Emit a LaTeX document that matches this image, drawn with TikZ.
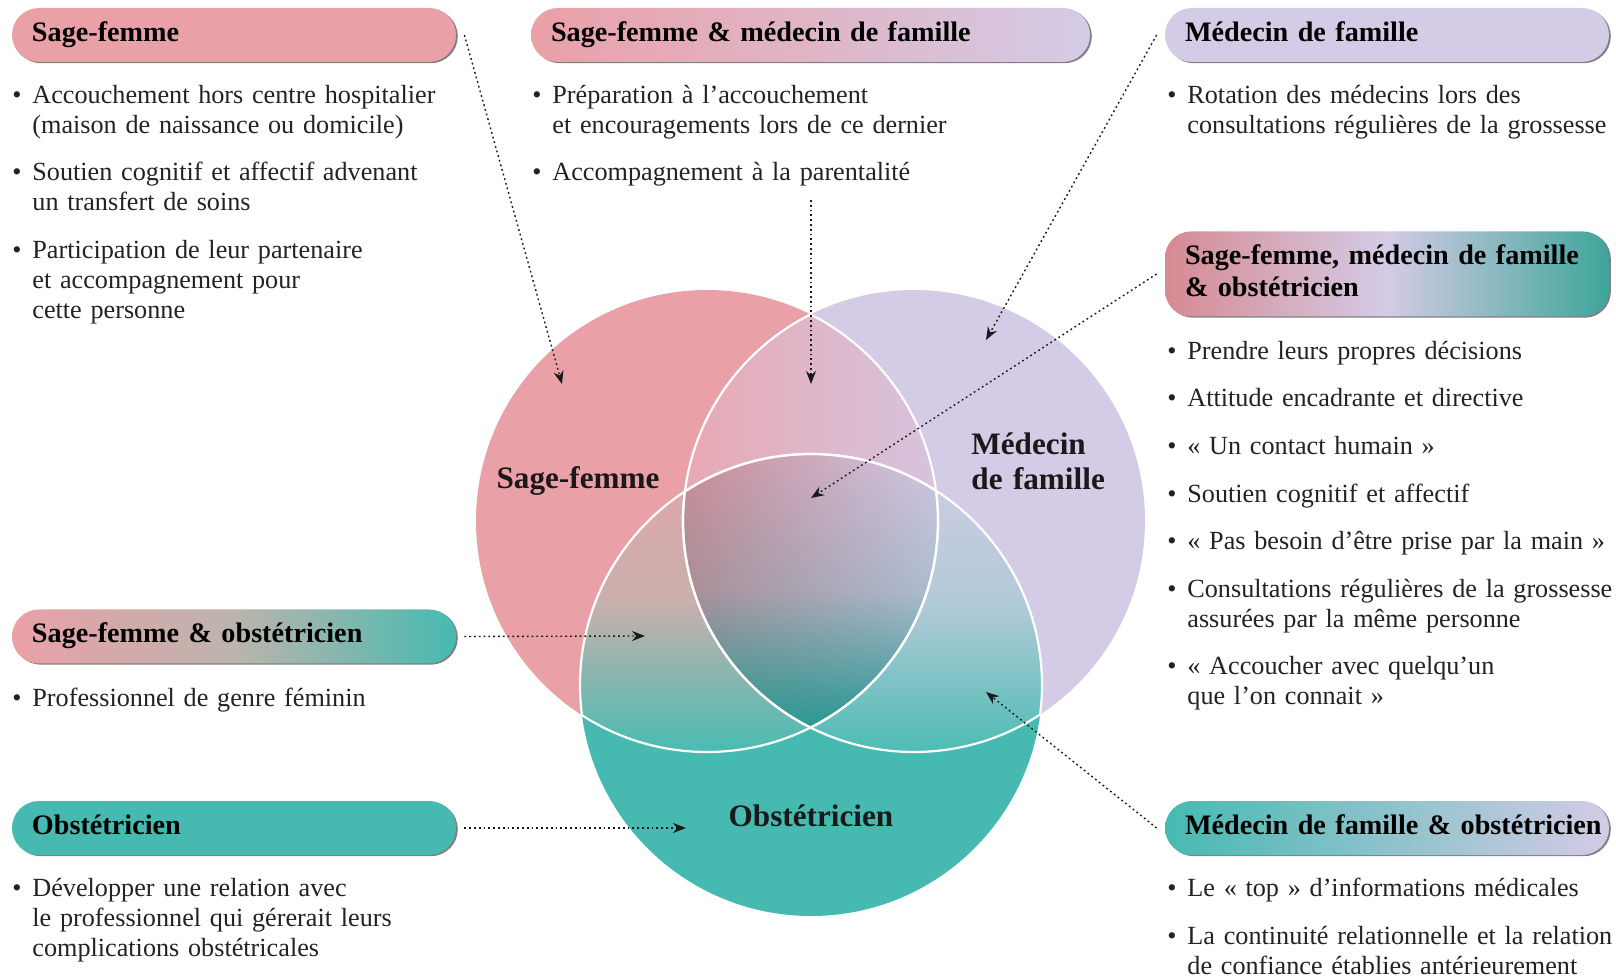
\documentclass[tikz,border=0pt]{standalone}
\usepackage{fontspec}
\setmainfont{Liberation Serif}
\usetikzlibrary{arrows.meta,fadings,shadows}

\definecolor{sfpink}{RGB}{234,160,167}
\definecolor{mflav}{RGB}{212,203,230}
\definecolor{obteal}{RGB}{70,186,177}
\definecolor{txt}{RGB}{35,35,35}
\definecolor{abL}{RGB}{232,168,178}
\definecolor{abR}{RGB}{214,196,222}
\definecolor{acT}{RGB}{228,165,170}
\definecolor{acM}{RGB}{200,176,172}
\definecolor{acB}{RGB}{72,188,178}
\definecolor{bcT}{RGB}{210,203,230}
\definecolor{bcM}{RGB}{178,202,216}
\definecolor{bcB}{RGB}{78,188,180}
\definecolor{ccL}{RGB}{205,140,152}
\definecolor{ccR}{RGB}{208,200,228}
\definecolor{ccB}{RGB}{40,152,146}
\definecolor{hfourL}{RGB}{214,138,146}
\definecolor{hfourR}{RGB}{62,165,155}
\definecolor{hfiveM}{RGB}{188,180,172}

\tikzfading[name=tealfade, top color=transparent!100, bottom color=transparent!0, middle color=transparent!78]

\newcommand{\bitem}[1]{\par\noindent\hangindent=10pt\hangafter=1\makebox[10pt][l]{\strut•}#1\par}
\newcommand{\isep}{\vspace{8.8pt}}

\def\cA{(707,521) circle[radius=115.5pt]}
\def\cB{(914,521) circle[radius=115.5pt]}
\def\cC{(811,685) circle[radius=115.5pt]}

\tikzset{
  hdr/.style={rounded corners=13.5pt, minimum height=27pt, inner xsep=10pt, inner ysep=0pt,
    align=left, font=\fontsize{14.1}{16}\selectfont\bfseries, text=black,
    drop shadow={shadow xshift=0.9pt, shadow yshift=-0.6pt, opacity=0.5, fill=black}},
  lst/.style={anchor=north west, inner sep=0pt, text width=250pt, align=left,
    font=\fontsize{13.1}{15}\selectfont, text=txt},
  vlab/.style={font=\fontsize{15.6}{17.5}\selectfont\bfseries, text=black!90, inner sep=0pt},
  wl/.style={draw=white, line width=1.1pt},
  arr/.style={draw=black!90, line width=0.7pt, dash pattern=on 0.9pt off 1.5pt,
    -{Stealth[length=6.5pt,width=5pt]}}
}

\begin{document}
\begin{tikzpicture}[x=0.5pt,y=-0.5pt]
\useasboundingbox (0,0) rectangle (1616,977);
\fill[white] (0,0) rectangle (1616,977);

% ---- Venn diagram ----
\fill[sfpink] \cA;
\fill[mflav] \cB;
\fill[obteal] \cC;
\begin{scope}
  \clip \cA; \clip \cB;
  \shade[left color=abL, right color=abR] (681,312) rectangle (940,730);
\end{scope}
\begin{scope}
  \clip \cA; \clip \cC;
  \shade[top color=acT, bottom color=acB, middle color=acM] (580,454) rectangle (940,752);
\end{scope}
\begin{scope}
  \clip \cB; \clip \cC;
  \shade[top color=bcT, bottom color=bcB, middle color=bcM] (681,454) rectangle (1042,752);
\end{scope}
\begin{scope}
  \clip \cA; \clip \cB; \clip \cC;
  \shade[left color=ccL, right color=ccR] (681,454) rectangle (940,729);
  \fill[ccB, path fading=tealfade] (681,454) rectangle (940,729);
\end{scope}
\begin{scope}\clip \cA; \draw[wl] \cB; \draw[wl] \cC; \end{scope}
\begin{scope}\clip \cB; \draw[wl] \cA; \draw[wl] \cC; \end{scope}
\begin{scope}\clip \cC; \draw[wl] \cA; \draw[wl] \cB; \end{scope}

\node[vlab, anchor=base] (vsf) at (578,488.5) {Sage-femme};
\node[vlab, anchor=north west, text width=80pt, align=left] (vmf) at (971,430) {\strut Médecin\newline de famille};
\node[vlab, anchor=base] (vob) at (811,826) {Obstétricien};

% ---- headers ----
\node[hdr, fill=sfpink, text width=202pt] (h1) at (234,35) {\strut Sage-femme};
\node[hdr, left color=sfpink, right color=mflav, text width=259.5pt] (h2) at (810.5,35) {\strut Sage-femme \& médecin de famille};
\node[hdr, fill=mflav, text width=202pt] (h3) at (1387,35) {\strut Médecin de famille};
\node[hdr, rounded corners=13pt, minimum height=42.5pt, left color=hfourL, right color=hfourR, middle color=mflav, text width=202pt] (h4) at (1387,274) {\strut\mbox{Sage-femme, médecin de famille}\newline\strut\& obstétricien};
\node[hdr, left color=sfpink, right color=obteal, middle color=hfiveM, text width=202pt] (h5) at (234,636.5) {\strut Sage-femme \& obstétricien};
\node[hdr, fill=obteal, text width=202pt] (h6) at (234,828) {\strut Obstétricien};
\node[hdr, left color=obteal, right color=mflav, text width=202pt] (h7) at (1387,828) {\strut\mbox{Médecin de famille \& obstétricien}};

% ---- lists ----
\node[lst] (l1) at (12,73) {%
\bitem{Accouchement hors centre hospitalier\newline (maison de naissance ou domicile)}\isep
\bitem{Soutien cognitif et affectif advenant\newline un transfert de soins}\isep
\bitem{Participation de leur partenaire\newline et accompagnement pour\newline cette personne}};
\node[lst] (l2) at (532,73) {%
\bitem{Préparation à l’accouchement\newline et encouragements lors de ce dernier}\isep
\bitem{Accompagnement à la parentalité}};
\node[lst] (l3) at (1167,73) {%
\bitem{Rotation des médecins lors des\newline consultations régulières de la grossesse}};
\node[lst] (l4) at (1167,329) {%
\bitem{Prendre leurs propres décisions}\isep
\bitem{Attitude encadrante et directive}\isep
\bitem{«~Un contact humain~»}\isep
\bitem{Soutien cognitif et affectif}\isep
\bitem{«~Pas besoin d’être prise par la main~»}\isep
\bitem{Consultations régulières de la grossesse\newline assurées par la même personne}\isep
\bitem{«~Accoucher avec quelqu’un\newline que l’on connait~»}};
\node[lst] (l5) at (12,676) {%
\bitem{Professionnel de genre féminin}};
\node[lst] (l6) at (12,866) {%
\bitem{Développer une relation avec\newline le professionnel qui gérerait leurs\newline complications obstétricales}};
\node[lst] (l7) at (1167,866) {%
\bitem{Le «~top~» d’informations médicales}\isep
\bitem{La continuité relationnelle et la relation\newline de confiance établies antérieurement}};

% ---- arrows ----
\coordinate (p1) at (562,384);
\coordinate (s2) at (811,200);
\coordinate (p2) at (811,384);
\coordinate (p3) at (986,340);
\coordinate (p4) at (811,498);
\coordinate (p5) at (645,636);
\coordinate (p6) at (686,828);
\coordinate (p7) at (986,692);
\draw[arr] ([xshift=4pt]h1.east) -- (p1);
\draw[arr] (s2) -- (p2);
\draw[arr] ([xshift=-4pt]h3.west) -- (p3);
\draw[arr] ([xshift=-4pt]h4.west) -- (p4);
\draw[arr] ([xshift=4pt]h5.east) -- (p5);
\draw[arr] ([xshift=4pt]h6.east) -- (p6);
\draw[arr] ([xshift=-4pt]h7.west) -- (p7);
\end{tikzpicture}
\end{document}
